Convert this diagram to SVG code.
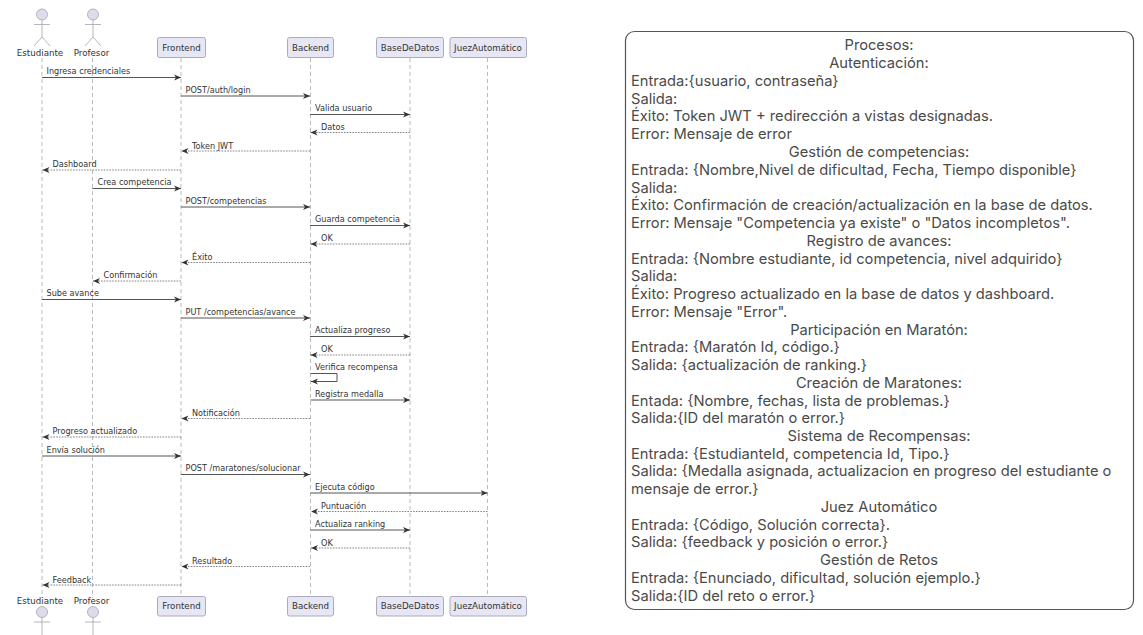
<svg xmlns="http://www.w3.org/2000/svg" width="1143" height="635" viewBox="0 0 1143 635">
<style>
.t{font-family:"DejaVu Sans",sans-serif;font-size:8.15px;fill:#333}
.n{font-family:"DejaVu Sans",sans-serif;font-size:8.7px;fill:#333}
.c{text-anchor:middle}
.life{stroke:#a9a9a9;stroke-width:.8;stroke-dasharray:4 3;fill:none}
.box{fill:#e6e6f4;stroke:#a3a3b5;stroke-width:.9}
.actor{fill:none;stroke:#a3a3a8;stroke-width:.8}
.head{fill:#dcdcea;stroke:#a3a3b5;stroke-width:.8}
.s{stroke:#555;stroke-width:1;fill:none;marker-end:url(#a)}
.d{stroke:#666;stroke-width:.8;stroke-dasharray:1.6 1.2;fill:none;marker-end:url(#a)}
.p{font-family:Inter,"Liberation Sans",sans-serif;font-size:14.7px;fill:#4a4a4a}
</style>
<defs><marker id="a" markerUnits="userSpaceOnUse" markerWidth="8" markerHeight="8" refX="7" refY="3.5" orient="auto"><path d="M0 0.5L7 3.5L0 6.500L2 3.500Z" fill="#333"/></marker></defs>
<g id="lifelines">
<path class="life" d="M42 58V598"/><path class="life" d="M92.500 58V598"/><path class="life" d="M181 58V596"/><path class="life" d="M310.500 58V596"/><path class="life" d="M410 58V596"/><path class="life" d="M487.500 58V596"/>
</g>
<g id="Estudiante"><circle class="head" cx="42" cy="14.500" r="5.500"/><path class="actor" d="M42 20V37M34 24.500H50M42 37L34 46M42 37L50 46"/><text class="n c" x="40" y="55.500">Estudiante</text></g>
<g id="Profesor"><circle class="head" cx="93" cy="14.500" r="5.500"/><path class="actor" d="M93 20V37M85 24.500H101M93 37L85 46M93 37L101 46"/><text class="n c" x="91.500" y="55.500">Profesor</text></g>
<g id="Frontend"><rect class="box" x="157.500" y="37.500" width="48" height="20" rx="2"/><text class="n c" x="181.500" y="50.500">Frontend</text></g>
<g id="Backend"><rect class="box" x="287.500" y="37.500" width="46" height="20" rx="2"/><text class="n c" x="310.500" y="50.500">Backend</text></g>
<g id="BaseDeDatos"><rect class="box" x="376.500" y="37.500" width="67" height="20" rx="2"/><text class="n c" x="410" y="50.500">BaseDeDatos</text></g>
<g id="JuezAutomatico"><rect class="box" x="450" y="37.500" width="76.500" height="20" rx="2"/><text class="n c" x="488" y="50.500">JuezAutomático</text></g>
<g id="Estudiante-bottom"><text class="n c" x="40" y="604">Estudiante</text><circle class="head" cx="42" cy="612" r="5.500"/><path class="actor" d="M42 617.500V635M34 622H50"/></g>
<g id="Profesor-bottom"><text class="n c" x="91.500" y="604">Profesor</text><circle class="head" cx="93" cy="612" r="5.500"/><path class="actor" d="M93 617.500V635M85 622H101"/></g>
<g id="Frontend-bottom"><rect class="box" x="157.500" y="596.500" width="48" height="19.500" rx="2"/><text class="n c" x="181.500" y="609">Frontend</text></g>
<g id="Backend-bottom"><rect class="box" x="287.500" y="596.500" width="46" height="19.500" rx="2"/><text class="n c" x="310.500" y="609">Backend</text></g>
<g id="BaseDeDatos-bottom"><rect class="box" x="376.500" y="596.500" width="67" height="19.500" rx="2"/><text class="n c" x="410" y="609">BaseDeDatos</text></g>
<g id="JuezAutomatico-bottom"><rect class="box" x="450" y="596.500" width="76.500" height="19.500" rx="2"/><text class="n c" x="488" y="609">JuezAutomático</text></g>
<g id="connectors">
<path class="s" d="M42 77.500H181"/><text class="t" x="46.500" y="74">Ingresa credenciales</text>
<path class="s" d="M181 96H310"/><text class="t" x="185.500" y="92.500">POST/auth/login</text>
<path class="s" d="M310 114.500H410"/><text class="t" x="315" y="111">Valida usuario</text>
<path class="d" d="M410 132.500H310.500"/><text class="t" x="321" y="130">Datos</text>
<path class="d" d="M310 151H181.500"/><text class="t" x="192" y="148.500">Token JWT</text>
<path class="d" d="M181 170H42.500"/><text class="t" x="52.500" y="167">Dashboard</text>
<path class="s" d="M92.500 188.500H181"/><text class="t" x="97.500" y="185">Crea competencia</text>
<path class="s" d="M181 207H310"/><text class="t" x="185.500" y="203.500">POST/competencias</text>
<path class="s" d="M310 225.500H410"/><text class="t" x="315" y="222">Guarda competencia</text>
<path class="d" d="M410 244H310.500"/><text class="t" x="321" y="241">OK</text>
<path class="d" d="M310 262.500H181.500"/><text class="t" x="192" y="259.500">Éxito</text>
<path class="d" d="M181 281H93"/><text class="t" x="103.500" y="278">Confirmación</text>
<path class="s" d="M42 299.500H181"/><text class="t" x="46.500" y="296">Sube avance</text>
<path class="s" d="M181 318H310"/><text class="t" x="185.500" y="314.500">PUT /competencias/avance</text>
<path class="s" d="M310 336.500H410"/><text class="t" x="315" y="333">Actualiza progreso</text>
<path class="d" d="M410 355H310.500"/><text class="t" x="321" y="352">OK</text>
<path class="s" d="M310.500 373.500H337V381.500H311"/><text class="t" x="315" y="370">Verifica recompensa</text>
<path class="s" d="M310.500 400H410"/><text class="t" x="315" y="397">Registra medalla</text>
<path class="d" d="M310 418.500H181.500"/><text class="t" x="192" y="415.500">Notificación</text>
<path class="d" d="M181 437H42.500"/><text class="t" x="52.500" y="434">Progreso actualizado</text>
<path class="s" d="M42 456H181"/><text class="t" x="46.500" y="452.500">Envía solución</text>
<path class="s" d="M181 474.500H310"/><text class="t" x="185.500" y="471">POST /maratones/solucionar</text>
<path class="s" d="M310.500 493H487.500"/><text class="t" x="315" y="489.500">Ejecuta código</text>
<path class="d" d="M487.500 511.500H311"/><text class="t" x="321" y="508.500">Puntuación</text>
<path class="s" d="M310.500 530H410"/><text class="t" x="315" y="526.500">Actualiza ranking</text>
<path class="d" d="M410 548H311"/><text class="t" x="321" y="545.500">OK</text>
<path class="d" d="M310 566.500H181.500"/><text class="t" x="192" y="564">Resultado</text>
<path class="d" d="M181 585H42.500"/><text class="t" x="52.500" y="582.500">Feedback</text>
</g>
<g id="procesos">
<rect x="625.500" y="31.500" width="508" height="578" rx="9" fill="#fff" stroke="#555" stroke-width="1.200"/>
<text class="p c" x="879" y="50">Procesos:</text>
<text class="p c" x="879" y="68">Autenticación:</text>
<text class="p" x="631" y="86">Entrada:{usuario, contraseña}</text>
<text class="p" x="631" y="103.500">Salida:</text>
<text class="p" x="631" y="121">Éxito: Token JWT + redirección a vistas designadas.</text>
<text class="p" x="631" y="139">Error: Mensaje de error</text>
<text class="p c" x="879" y="157">Gestión de competencias:</text>
<text class="p" x="631" y="175">Entrada: {Nombre,Nivel de dificultad, Fecha, Tiempo disponible}</text>
<text class="p" x="631" y="192.500">Salida:</text>
<text class="p" x="631" y="210">Éxito: Confirmación de creación/actualización en la base de datos.</text>
<text class="p" x="631" y="228">Error: Mensaje "Competencia ya existe" o "Datos incompletos".</text>
<text class="p c" x="879" y="246">Registro de avances:</text>
<text class="p" x="631" y="264">Entrada: {Nombre estudiante, id competencia, nivel adquirido}</text>
<text class="p" x="631" y="281">Salida:</text>
<text class="p" x="631" y="299">Éxito: Progreso actualizado en la base de datos y dashboard.</text>
<text class="p" x="631" y="317">Error: Mensaje "Error".</text>
<text class="p c" x="879" y="335">Participación en Maratón:</text>
<text class="p" x="631" y="352">Entrada: {Maratón Id, código.}</text>
<text class="p" x="631" y="370">Salida: {actualización de ranking.}</text>
<text class="p c" x="879" y="388">Creación de Maratones:</text>
<text class="p" x="631" y="405.500">Entada: {Nombre, fechas, lista de problemas.}</text>
<text class="p" x="631" y="423">Salida:{ID del maratón o error.}</text>
<text class="p c" x="879" y="441">Sistema de Recompensas:</text>
<text class="p" x="631" y="458.500">Entrada: {EstudianteId, competencia Id, Tipo.}</text>
<text class="p" x="631" y="476">Salida: {Medalla asignada, actualizacion en progreso del estudiante o</text>
<text class="p" x="631" y="494">mensaje de error.}</text>
<text class="p c" x="879" y="512">Juez Automático</text>
<text class="p" x="631" y="529.500">Entrada: {Código, Solución correcta}.</text>
<text class="p" x="631" y="547">Salida: {feedback y posición o error.}</text>
<text class="p c" x="879" y="565">Gestión de Retos</text>
<text class="p" x="631" y="583">Entrada: {Enunciado, dificultad, solución ejemplo.}</text>
<text class="p" x="631" y="601">Salida:{ID del reto o error.}</text>
</g>
</svg>
